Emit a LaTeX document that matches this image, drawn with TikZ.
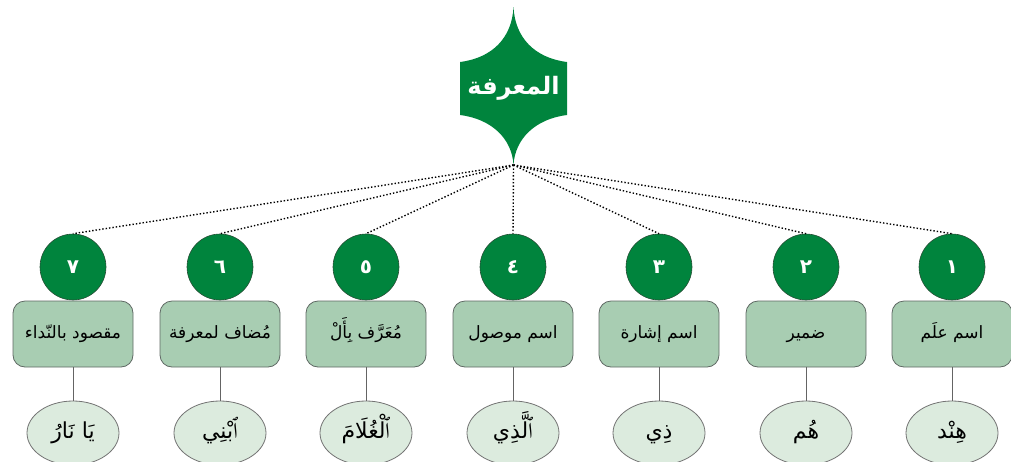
\documentclass[tikz,border=0pt]{standalone}
\usepackage{fontspec}
\usetikzlibrary{shapes.geometric}
\TeXXeTstate=1
\newfontfamily\arabicfont[Script=Arabic]{DejaVu Sans}
\newfontfamily\waslafont[Script=Arabic]{Amiri}
\newcommand{\wasla}{{\waslafont ٱ}}
\definecolor{dkgreen}{RGB}{0,132,61}
\definecolor{dkedge}{RGB}{40,80,55}
\definecolor{boxfill}{RGB}{168,205,178}
\definecolor{boxedge}{RGB}{95,105,100}
\definecolor{ellfill}{RGB}{220,235,222}
\definecolor{elledge}{RGB}{115,115,115}
\definecolor{connc}{RGB}{100,100,100}
\tikzset{
  numc/.style={circle, fill=dkgreen, draw=dkedge, line width=0.6pt, minimum size=66pt, inner sep=0pt, text=white, font=\arabicfont\bfseries\fontsize{20}{24}\selectfont},
  catbox/.style={rectangle, rounded corners=12pt, fill=boxfill, draw=boxedge, line width=0.8pt, minimum width=120pt, minimum height=66pt, inner sep=0pt, text height=12pt, text depth=4pt, font=\arabicfont\fontsize{17}{20}\selectfont},
  exell/.style={ellipse, fill=ellfill, draw=elledge, line width=0.8pt, minimum width=92pt, minimum height=64pt, inner sep=0pt, text height=16pt, text depth=5pt, font=\arabicfont\fontsize{22}{26}\selectfont},
  dotline/.style={dotted, line width=1.4pt, black},
  conn/.style={draw=connc, line width=0.9pt}
}
\begin{document}
\begin{tikzpicture}[x=1pt,y=-1pt]
\useasboundingbox (0,0) rectangle (1011,461);
\clip (0,0) rectangle (1011,461);
% title star shape
\fill[dkgreen] (460,62) .. controls (492,58) and (512,38) .. (513.5,7)
  .. controls (515,38) and (535,58) .. (567,62) -- (567,115)
  .. controls (535,119) and (515,139) .. (513.5,165)
  .. controls (512,139) and (492,119) .. (460,115) -- cycle;
\node[text=white, font=\arabicfont\bfseries\fontsize{24}{28}\selectfont] (title) at (513.5,88) {\beginR المعرفة\endR};
\coordinate (tip) at (513.5,165);
% circles
\node[numc] (c1) at (952,267) {\beginR ١\endR};
\node[numc] (c2) at (806,267) {\beginR ٢\endR};
\node[numc] (c3) at (659,267) {\beginR ٣\endR};
\node[numc] (c4) at (513,267) {\beginR ٤\endR};
\node[numc] (c5) at (366,267) {\beginR ٥\endR};
\node[numc] (c6) at (220,267) {\beginR ٦\endR};
\node[numc] (c7) at (73,267) {\beginR ٧\endR};
\foreach \i in {1,...,7} {\draw[dotline] (tip) -- (c\i.north);}
% boxes
\node[catbox] (b1) at (952,334) {\beginR اسم علَم\endR};
\node[catbox] (b2) at (806,334) {\beginR ضمير\endR};
\node[catbox] (b3) at (659,334) {\beginR اسم إشارة\endR};
\node[catbox] (b4) at (513,334) {\beginR اسم موصول\endR};
\node[catbox] (b5) at (366,334) {\beginR مُعَرَّف بِأَلْ\endR};
\node[catbox] (b6) at (220,334) {\beginR مُضاف لمعرفة\endR};
\node[catbox] (b7) at (73,334) {\beginR مقصود بالنّداء\endR};
% ellipses
\node[exell] (e1) at (952,433) {\beginR هِنْد\endR};
\node[exell] (e2) at (806,433) {\beginR هُم\endR};
\node[exell] (e3) at (659,433) {\beginR ذِي\endR};
\node[exell] (e4) at (513,433) {\beginR \wasla لَّذِي\endR};
\node[exell] (e5) at (366,433) {\beginR \wasla لْغُلَامَ\endR};
\node[exell] (e6) at (220,433) {\beginR \wasla بْنِي\endR};
\node[exell] (e7) at (73,433) {\beginR يَا نَارُ\endR};
\foreach \i in {1,...,7} {\draw[conn] (b\i.south) -- (e\i.north);}
\end{tikzpicture}
\end{document}
